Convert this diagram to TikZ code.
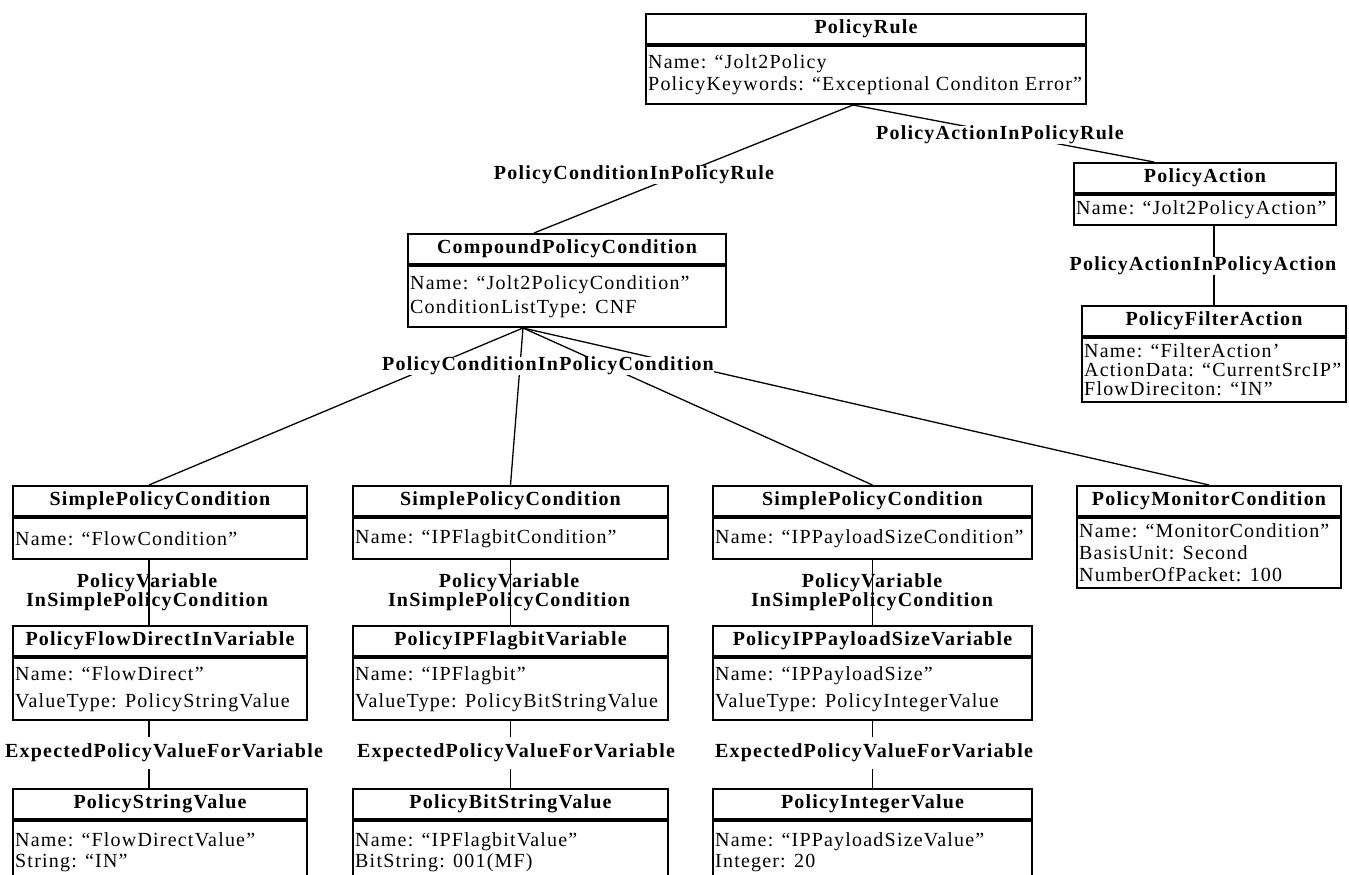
\documentclass[tikz,border=0pt]{standalone}
\usepackage{fontspec}
\setmainfont{Liberation Serif}[LetterSpace=6]
\newcommand\umlbox[8]{%
  \node[ttl,minimum width=#4] (#1) at (#2,#3) {#6};
  \node[bdy,minimum width=#4,minimum height=#5] (#1-b) at (#1.south) {};
  \node[btxt,font=\fontsize{20}{#8}\selectfont] (#1-t) at ([xshift=3]#1-b.west) {#7};
}
\begin{document}
\begin{tikzpicture}[x=1pt,y=-1pt,
  ttl/.style={draw,line width=2pt,anchor=north west,minimum height=30,inner sep=0pt,font=\bfseries\fontsize{20}{22}\selectfont},
  bdy/.style={draw,line width=2pt,anchor=north,inner sep=0pt},
  btxt/.style={anchor=west,align=left,inner sep=0pt},
  lbl/.style={font=\bfseries\fontsize{20}{18}\selectfont,inner sep=0pt,align=center},
  lblw/.style={lbl,fill=white},
  lble/.style={lbl,fill=white,inner ysep=7pt},
  conn/.style={line width=1.3pt}]
\useasboundingbox (0,0) rectangle (1349,875);
\fill[white] (0,0) rectangle (1349,875);
\clip (0,0) rectangle (1349,875);
% boxes
\umlbox{rule}{645}{13}{440}{58}{PolicyRule}{Name: “Jolt2Policy\\PolicyKeywords: “Exceptional Conditon Error”}{22}
\umlbox{act}{1073}{162}{262}{30}{PolicyAction}{Name: “Jolt2PolicyAction”}{22}
\umlbox{filt}{1081}{305}{264}{64}{PolicyFilterAction}{Name: “FilterAction’\\ActionData: “CurrentSrcIP”\\FlowDireciton: “IN”}{19}
\umlbox{comp}{407}{233}{318}{61}{CompoundPolicyCondition}{Name: “Jolt2PolicyCondition”\\ConditionListType: CNF}{24}
\umlbox{sp1}{12}{485}{294}{41}{SimplePolicyCondition}{Name: “FlowCondition”}{22}
\umlbox{sp2}{352}{485}{315}{41}{SimplePolicyCondition}{Name: “IPFlagbitCondition”}{22}
\umlbox{sp3}{712}{485}{319}{41}{SimplePolicyCondition}{Name: “IPPayloadSizeCondition”}{22}
\umlbox{mon}{1076}{485}{264}{70}{PolicyMonitorCondition}{Name: “MonitorCondition”\\BasisUnit: Second\\NumberOfPacket: 100}{22}
\umlbox{var1}{12}{625}{294}{62}{PolicyFlowDirectInVariable}{Name: “FlowDirect”\\ValueType: PolicyStringValue}{27}
\umlbox{var2}{352}{625}{315}{62}{PolicyIPFlagbitVariable}{Name: “IPFlagbit”\\ValueType: PolicyBitStringValue}{27}
\umlbox{var3}{712}{625}{319}{62}{PolicyIPPayloadSizeVariable}{Name: “IPPayloadSize”\\ValueType: PolicyIntegerValue}{27}
\umlbox{val1}{12}{788}{294}{62}{PolicyStringValue}{Name: “FlowDirectValue”\\String: “IN”}{21}
\umlbox{val2}{352}{788}{315}{62}{PolicyBitStringValue}{Name: “IPFlagbitValue”\\BitString: 001(MF)}{21}
\umlbox{val3}{712}{788}{319}{62}{PolicyIntegerValue}{Name: “IPPayloadSizeValue”\\Integer: 20}{21}
% connectors
\draw[conn] ([xshift=-13]rule-b.south) -- ([xshift=-33]comp.north);
\draw[conn] ([xshift=-13]rule-b.south) -- ([xshift=-51]act.north);
\draw[conn] (filt.north) -- (filt.north |- act-b.south);
\draw[conn] ([xshift=-44]comp-b.south) -- ([xshift=-11]sp1.north);
\draw[conn] ([xshift=-44]comp-b.south) -- (sp2.north);
\draw[conn] ([xshift=-44]comp-b.south) -- (sp3.north);
\draw[conn] ([xshift=-44]comp-b.south) -- (mon.north);
\draw[conn] ([xshift=-11]sp1-b.south) -- ([xshift=-11]var1.north);
\draw[conn] ([xshift=-11]var1-b.south) -- ([xshift=-11]val1.north);
\draw[conn] (sp2-b.south) -- (var2.north);
\draw[conn] (var2-b.south) -- (val2.north);
\draw[conn] (sp3-b.south) -- (var3.north);
\draw[conn] (var3-b.south) -- (val3.north);
% labels
\node[lblw] (l1) at (634,175) {PolicyConditionInPolicyRule};
\node[lblw] (l2) at (1000,135) {PolicyActionInPolicyRule};
\node[lblw] (l3) at (1203,266) {PolicyActionInPolicyAction};
\node[lblw] (l4) at (548,366) {PolicyConditionInPolicyCondition};
\node[lbl] (pv1) at (147,592) {PolicyVariable\\InSimplePolicyCondition};
\node[lbl] (pv2) at (509,592) {PolicyVariable\\InSimplePolicyCondition};
\node[lbl] (pv3) at (872,592) {PolicyVariable\\InSimplePolicyCondition};
\node[lble] (e1) at (164,753) {ExpectedPolicyValueForVariable};
\node[lble] (e2) at (516,753) {ExpectedPolicyValueForVariable};
\node[lble] (e3) at (874,753) {ExpectedPolicyValueForVariable};
\end{tikzpicture}
\end{document}
